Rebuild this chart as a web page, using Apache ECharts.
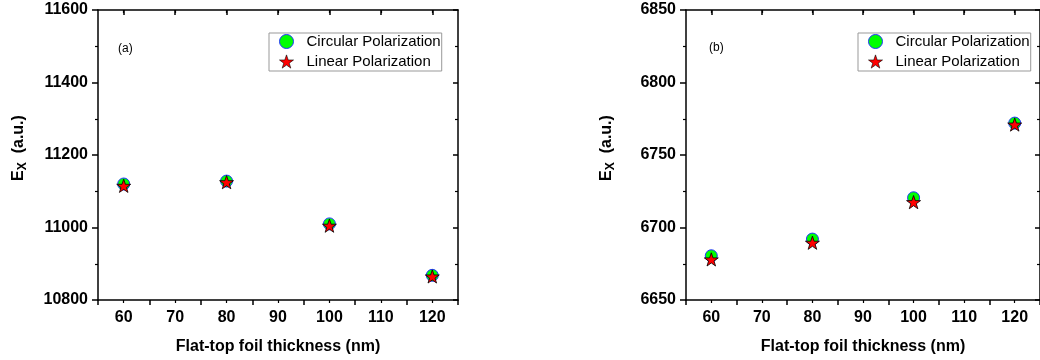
<!DOCTYPE html>
<html lang="en">
<head>
    <meta charset="UTF-8">
    <title>Ex vs foil thickness</title>
    <script src="https://cdn.jsdelivr.net/npm/echarts@6/dist/echarts.min.js"></script>
</head>
<body style="margin:0;background:#fff">
<div id="main" style="width:1040px;height:360px"></div>
<script type="text/javascript">
    // data
    var thickness = [60, 80, 100, 120];
    var circA = [11120, 11128, 11010, 10868];
    var linA = [11115, 11125, 11005, 10865];
    var circB = [6680.5, 6692, 6720.5, 6772];
    var linB = [6678, 6689.5, 6717.5, 6771];
    var yTicksA = [10800, 11600, 200];
    var yTicksB = [6650, 6850, 50];

    var FONT = '"Liberation Sans", Arial, sans-serif';
    var STAR = 'path://M50,0 L61.8,35.1 L98.1,35.1 L68.8,56.8 L79.4,91 L50,70 L20.6,91 L31.2,56.8 L1.9,35.1 L38.2,35.1 Z';

    function pairs(xs, ys) {
        return xs.map(function (x, i) { return [x, ys[i]]; });
    }

    var lineStyle = {color: '#000', width: 1.5};

    // bottom x axis with labels + mirrored top axis
    function xAxes(gi) {
        return [{
            gridIndex: gi, type: 'value', min: 55, max: 125, interval: 10,
            axisLine: {lineStyle: lineStyle},
            axisTick: {length: 5, lineStyle: lineStyle},
            minorTick: {show: true, splitNumber: 2, length: 3, lineStyle: {color: '#000', width: 1.2}},
            splitLine: {show: false},
            axisLabel: {margin: 10, color: '#000', fontSize: 16, fontWeight: 'bold', fontFamily: FONT,
                customValues: [60, 70, 80, 90, 100, 110, 120]},
            name: 'Flat-top foil thickness (nm)', nameLocation: 'middle', nameGap: 39,
            nameTextStyle: {color: '#000', fontSize: 16, fontWeight: 'bold', fontFamily: FONT}
        }, {
            gridIndex: gi, type: 'value', position: 'top', min: 55, max: 125, interval: 10,
            axisLine: {lineStyle: lineStyle},
            axisTick: {inside: true, length: 5, lineStyle: lineStyle,
                customValues: [60, 70, 80, 90, 100, 110, 120]},
            minorTick: {show: true, splitNumber: 2, length: 3, lineStyle: {color: '#000', width: 1.2}},
            splitLine: {show: false},
            axisLabel: {show: false}
        }];
    }

    // left y axis with labels + mirrored right axis
    function yAxes(gi, t) {
        return [{
            gridIndex: gi, type: 'value', min: t[0], max: t[1], interval: t[2],
            axisLine: {lineStyle: lineStyle},
            axisTick: {length: 6, lineStyle: lineStyle},
            minorTick: {show: true, splitNumber: 2, length: 3, lineStyle: {color: '#000', width: 1.2}},
            splitLine: {show: false},
            axisLabel: {margin: 10, color: '#000', fontSize: 16, fontWeight: 'bold', fontFamily: FONT,
                formatter: function (v) { return String(v); }},
            name: '{e|E}{s|X}{e|  (a.u.)}', nameLocation: 'middle', nameGap: 69, nameRotate: 90,
            nameTextStyle: {
                color: '#000', fontFamily: FONT, padding: [0, 0, 0, 14],
                rich: {
                    e: {fontSize: 16, fontWeight: 'bold', fontFamily: FONT, color: '#000'},
                    s: {fontSize: 12, fontWeight: 'bold', fontFamily: FONT, color: '#000', padding: [8, 0, 0, 0]}
                }
            }
        }, {
            gridIndex: gi, type: 'value', position: 'right', min: t[0], max: t[1], interval: t[2],
            axisLine: {lineStyle: lineStyle},
            axisTick: {inside: true, length: 5, lineStyle: lineStyle},
            minorTick: {show: true, splitNumber: 2, length: 3, lineStyle: {color: '#000', width: 1.2}},
            splitLine: {show: false},
            axisLabel: {show: false}
        }];
    }

    function circSeries(gi, ys) {
        return {
            name: 'Circular Polarization', type: 'scatter',
            xAxisIndex: gi * 2, yAxisIndex: gi * 2,
            symbol: 'circle', symbolSize: 12,
            itemStyle: {color: '#00ff00', borderColor: '#2233ff', borderWidth: 1, opacity: 1},
            data: pairs(thickness, ys), z: 2
        };
    }

    function linSeries(gi, ys) {
        return {
            name: 'Linear Polarization', type: 'scatter',
            xAxisIndex: gi * 2, yAxisIndex: gi * 2,
            symbol: STAR, symbolSize: 14, symbolKeepAspect: true,
            itemStyle: {color: '#ff0000', borderColor: '#000', borderWidth: 0.8, opacity: 1},
            data: pairs(thickness, ys), z: 3
        };
    }

    function legend(left) {
        return {
            left: left, top: 33, orient: 'vertical',
            data: [
                {name: 'Circular Polarization', icon: 'circle',
                    itemStyle: {color: '#00ff00', borderColor: '#2233ff', borderWidth: 1}},
                {name: 'Linear Polarization', icon: STAR,
                    itemStyle: {color: '#ff0000', borderColor: '#000', borderWidth: 0.6}}
            ],
            itemWidth: 14, itemHeight: 14, itemGap: 5,
            padding: [1, 1, 2, 10],
            borderColor: '#999', borderWidth: 1, borderRadius: 0,
            backgroundColor: '#fff',
            selectedMode: false,
            textStyle: {color: '#000', fontSize: 15, fontFamily: FONT, lineHeight: 14, padding: [0, 0, 0, 8]}
        };
    }

    var myChart = echarts.init(document.getElementById('main'), null, {renderer: 'canvas'});
    var option = {
        backgroundColor: '#fff',
        animation: false,
        grid: [
            {left: 98, top: 10, width: 360, height: 290},
            {left: 686, top: 10, width: 360, height: 290}
        ],
        xAxis: xAxes(0).concat(xAxes(1)),
        yAxis: yAxes(0, yTicksA).concat(yAxes(1, yTicksB)),
        legend: [legend(269), legend(858)],
        graphic: [
            {type: 'text', left: 118, top: 43, style: {text: '(a)', fontSize: 12, fontFamily: FONT, fill: '#000'}},
            {type: 'text', left: 709, top: 42, style: {text: '(b)', fontSize: 12, fontFamily: FONT, fill: '#000'}}
        ],
        series: [
            circSeries(0, circA), linSeries(0, linA),
            circSeries(1, circB), linSeries(1, linB)
        ]
    };
    myChart.setOption(option);
</script>
</body>
</html>
